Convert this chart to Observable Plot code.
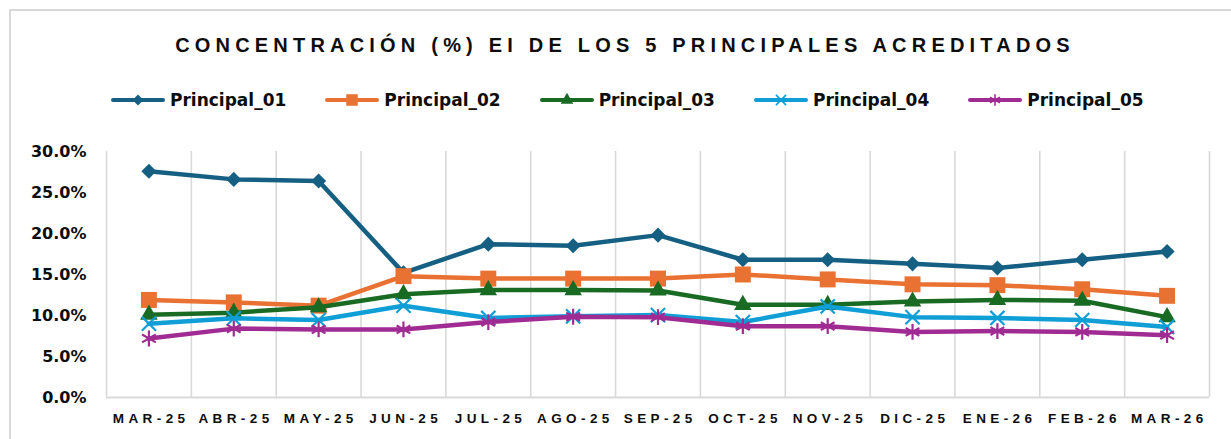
<!DOCTYPE html>
<html>
<head>
<meta charset="utf-8">
<script src="https://cdn.jsdelivr.net/npm/d3@7"></script>
<script src="https://cdn.jsdelivr.net/npm/@observablehq/plot@0.6"></script>
<style>
  html, body { margin: 0; padding: 0; background: #fff; }
  #wrap { position: relative; width: 1231px; height: 439px; overflow: hidden; background: #fff; }
  #frame { position: absolute; left: 9px; top: 9px; width: 1240px; height: 450px; border: 2px solid #d9d9d9; box-sizing: border-box; }
  #title { position: absolute; left: 0; top: 33px; width: 1250px; text-align: center;
           font-family: "Liberation Sans", Arial, sans-serif; font-weight: bold; font-size: 20px;
           letter-spacing: 5.2px; color: #0d0d0d; line-height: 24px; white-space: nowrap; }
  #legend { position: absolute; left: 111px; top: 88px; display: flex; align-items: center; height: 24px; }
  .item { display: flex; align-items: center; margin-right: 39px; }
  .item svg { display: block; }
  .item span { font-family: "DejaVu Sans", sans-serif; font-weight: bold; font-size: 17px; color: #0d0d0d; margin-left: 5px; white-space: nowrap; }
  #chart { position: absolute; left: 0; top: 130px; }
</style>
</head>
<body>
<div id="wrap">
  <div id="frame"></div>
  <div id="title"></div>
  <div id="legend"></div>
  <div id="chart"></div>
</div>
<script>
const titleText = "CONCENTRACIÓN (%) EI DE LOS 5 PRINCIPALES ACREDITADOS";
const months = ["MAR-25","ABR-25","MAY-25","JUN-25","JUL-25","AGO-25","SEP-25","OCT-25","NOV-25","DIC-25","ENE-26","FEB-26","MAR-26"];
const yTicks = [0, 5, 10, 15, 20, 25, 30];
const seriesNames = ["Principal_01","Principal_02","Principal_03","Principal_04","Principal_05"];
const p01 = [27.6, 26.6, 26.4, 15.2, 18.7, 18.5, 19.8, 16.8, 16.8, 16.3, 15.8, 16.8, 17.8];
const p02 = [11.9, 11.6, 11.2, 14.8, 14.5, 14.5, 14.5, 15.0, 14.4, 13.8, 13.7, 13.2, 12.4];
const p03 = [10.1, 10.35, 11.0, 12.6, 13.1, 13.1, 13.05, 11.3, 11.3, 11.7, 11.9, 11.8, 9.8];
const p04 = [9.0, 9.65, 9.45, 11.2, 9.7, 9.9, 10.05, 9.2, 11.1, 9.8, 9.7, 9.45, 8.6];
const p05 = [7.2, 8.4, 8.3, 8.3, 9.2, 9.85, 9.8, 8.7, 8.7, 8.0, 8.1, 8.0, 7.6];
const seriesValues = [p01, p02, p03, p04, p05];
const colors = ["#156082", "#E97132", "#196B24", "#0F9ED5", "#A02B93"];
const symbols = ["diamond2", "square", "triangle", "times", "asterisk"];
const symbolR = [6.8, 9, 6.5, 6.5, 7.5];
const symbolFilled = [true, true, true, false, false];
const d3Symbols = {diamond2: d3.symbolDiamond2, square: d3.symbolSquare, triangle: d3.symbolTriangle, times: d3.symbolTimes, asterisk: d3.symbolAsterisk};

document.getElementById("title").textContent = titleText;

// legend
const legend = d3.select("#legend");
seriesNames.forEach((name, k) => {
  const item = legend.append("div").attr("class", "item");
  const s = item.append("svg").attr("width", 54).attr("height", 20);
  s.append("line").attr("x1", 2).attr("x2", 52).attr("y1", 10).attr("y2", 10)
    .attr("stroke", colors[k]).attr("stroke-width", 4).attr("stroke-linecap", "round");
  const r = symbolR[k] * 0.72;
  const p = s.append("path").attr("transform", "translate(27,10)")
    .attr("d", d3.symbol(d3Symbols[symbols[k]], Math.PI * r * r)());
  if (symbolFilled[k]) p.attr("fill", colors[k]);
  else p.attr("fill", "none").attr("stroke", colors[k]).attr("stroke-width", 1.6);
  item.append("span").text(name);
});

// data table
const rows = [];
seriesNames.forEach((name, k) => {
  seriesValues[k].forEach((v, i) => rows.push({series: name, k, i, month: months[i], value: v}));
});

const marks = [
  Plot.ruleX(d3.range(months.length + 1), {x: d => d - 0.5, stroke: "#d9d9d9", strokeWidth: 1.6}),
  Plot.ruleY([0], {stroke: "#d9d9d9", strokeWidth: 2}),
  Plot.axisY({ticks: yTicks, tickFormat: d => d.toFixed(1) + "%", tickSize: 0, tickPadding: 20,
    fontSize: 16, fontWeight: "bold", fontFamily: "DejaVu Sans, sans-serif", fill: "#0d0d0d", label: null}),
  Plot.axisX({ticks: d3.range(months.length), tickFormat: i => months[i], tickSize: 0, tickPadding: 16,
    fontSize: 13.5, fontWeight: "bold", fontFamily: "Liberation Sans, Arial, sans-serif", fill: "#0d0d0d", label: null})
];
seriesNames.forEach((name, k) => {
  const data = rows.filter(d => d.k === k);
  marks.push(Plot.line(data, {x: "i", y: "value", stroke: colors[k], strokeWidth: 4.5, strokeLinejoin: "round", strokeLinecap: "round"}));
  if (symbolFilled[k]) {
    marks.push(Plot.dot(data, {x: "i", y: "value", symbol: symbols[k], r: symbolR[k], fill: colors[k], stroke: "none"}));
  } else {
    marks.push(Plot.dot(data, {x: "i", y: "value", symbol: symbols[k], r: symbolR[k], fill: "none", stroke: colors[k], strokeWidth: 2.2}));
  }
});

const chart = Plot.plot({
  width: 1231,
  height: 309,
  marginLeft: 106,
  marginRight: 22,
  marginTop: 21,
  marginBottom: 42,
  x: {type: "linear", domain: [-0.5, months.length - 0.5]},
  y: {domain: [0, 30]},
  style: {background: "transparent", overflow: "visible"},
  marks
});
d3.select(chart).selectAll('g[aria-label="x-axis tick label"] text')
  .style("letter-spacing", "4.4px").attr("dx", "2.2px");
document.getElementById("chart").appendChild(chart);
</script>
</body>
</html>
